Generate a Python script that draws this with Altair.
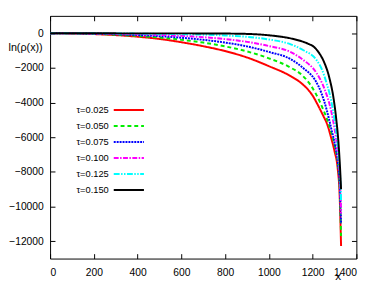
import altair as alt
import pandas as pd

taus = ["τ=0.025", "τ=0.050", "τ=0.075", "τ=0.100", "τ=0.125", "τ=0.150"]
colors = ["#ff0000", "#00ee00", "#0000ff", "#ff00ff", "#00ffff", "#000000"]
dashes = [[1, 0], [4, 3], [2, 1], [5, 1.5, 1.5, 1.5], [6, 1.5, 1.5, 1.5, 1.5, 1.5], [1, 0]]

x_red = [0, 200, 400, 500, 600, 700, 800, 900, 1000, 1100, 1150, 1200, 1233, 1250, 1265, 1285, 1300, 1315, 1323, 1330]
y_red = [0, -50, -200, -330, -520, -750, -1030, -1400, -1900, -2480, -2900, -3600, -4370, -4800, -5200, -6050, -6800, -7860, -9200, -12270]

x_green = [0, 200, 400, 500, 600, 700, 800, 900, 1000, 1100, 1150, 1190, 1215, 1250, 1270, 1288, 1303, 1316, 1324, 1330]
y_green = [0, -35, -160, -250, -380, -540, -760, -1050, -1450, -1990, -2400, -2980, -3500, -4450, -5100, -5850, -6600, -7600, -9000, -11700]

x_blue = [0, 200, 400, 500, 600, 700, 800, 900, 1000, 1100, 1158, 1211, 1240, 1265, 1285, 1303, 1316, 1324, 1330]
y_blue = [0, -25, -110, -170, -260, -380, -540, -760, -1080, -1500, -2020, -2700, -3450, -4450, -5500, -6500, -7500, -8800, -11000]

x_magenta = [0, 200, 400, 600, 700, 800, 900, 1000, 1100, 1158, 1218, 1255, 1285, 1305, 1317, 1325, 1330]
y_magenta = [0, -15, -60, -150, -230, -340, -500, -740, -1090, -1550, -2300, -3240, -4500, -5900, -7100, -8400, -10400]

x_cyan = [0, 200, 400, 600, 700, 800, 900, 1000, 1100, 1158, 1218, 1241, 1263, 1285, 1300, 1312, 1320, 1326, 1330]
y_cyan = [0, -5, -25, -60, -85, -130, -210, -360, -640, -985, -1550, -2050, -2850, -3900, -5000, -6100, -7300, -8300, -9650]

x_black = [0, 200, 400, 600, 800, 900, 1000, 1100, 1158, 1180, 1203, 1225, 1250, 1278, 1295, 1307, 1318, 1325, 1330]
y_black = [0, -5, -10, -10, -20, -40, -120, -300, -500, -610, -760, -1060, -1600, -2650, -3700, -4850, -6300, -7700, -9000]

x_ticks = [0, 200, 400, 600, 800, 1000, 1200, 1400]
y_ticks = [-12000, -10000, -8000, -6000, -4000, -2000, 0]

series = [
    (x_red, y_red), (x_green, y_green), (x_blue, y_blue),
    (x_magenta, y_magenta), (x_cyan, y_cyan), (x_black, y_black),
]
rows = []
for i, (xs, ys) in enumerate(series):
    for j, (xv, yv) in enumerate(zip(xs, ys)):
        rows.append({"tau": taus[i], "x": xv, "y": yv, "k": j, "s": i})
df = pd.DataFrame(rows)

# legend entries, placed in data space
leg_rows = []
for i, t in enumerate(taus):
    leg_rows.append({"tau": t, "s": i, "ly": -4430 - 923 * i,
                     "tx": 268, "lx1": 291, "lx2": 429})
leg = pd.DataFrame(leg_rows)

xscale = alt.Scale(domain=[0, 1400], nice=False, zero=False)
yscale = alt.Scale(domain=[-13000, 1000], nice=False, zero=False)
cscale = alt.Scale(domain=taus, range=colors)
dscale = alt.Scale(domain=taus, range=dashes)

FONT = "Liberation Sans"

x_axis = alt.Axis(orient="bottom", values=x_ticks, format="d", offset=-5, tickSize=5, domain=False,
                  grid=False, labelPadding=9, labelFontSize=10.5, labelFont=FONT,
                  labelColor="#000", tickColor="#000", title="x", titleFont=FONT,
                  titleFontSize=12, titleFontWeight="normal", titleX=294, titleY=26,
                  titleAlign="center", titleBaseline="alphabetic", titleColor="#000")
y_axis = alt.Axis(orient="left", values=y_ticks, format="d", offset=-5, tickSize=5, domain=False,
                  grid=False, labelPadding=7, labelFontSize=10.5, labelFont=FONT,
                  labelColor="#000", tickColor="#000", title="ln(ρ(x))", titleFont=FONT,
                  titleFontSize=11, titleFontWeight="normal", titleAngle=0, titleX=-48,
                  titleY=32, titleAlign="left", titleBaseline="middle", titleColor="#000")
x_top = alt.Axis(orient="top", values=x_ticks, offset=-5, tickSize=5, domain=False,
                 grid=False, labels=False, title=None, tickColor="#000")
y_right = alt.Axis(orient="right", values=y_ticks, offset=-5, tickSize=5, domain=False,
                   grid=False, labels=False, title=None, tickColor="#000")

lines = alt.Chart(df).mark_line(strokeWidth=2, interpolate="monotone").encode(
    x=alt.X("x:Q", scale=xscale, axis=x_axis),
    y=alt.Y("y:Q", scale=yscale, axis=y_axis),
    color=alt.Color("tau:N", scale=cscale, legend=None),
    strokeDash=alt.StrokeDash("tau:N", scale=dscale, legend=None),
    order=alt.Order("k:Q"),
)

frame_axes = alt.Chart(df).mark_line(opacity=0).encode(
    x=alt.X("x:Q", scale=xscale, axis=x_top),
    y=alt.Y("y:Q", scale=yscale, axis=y_right),
    detail="tau:N",
)

leg_lines = alt.Chart(leg).mark_rule(strokeWidth=2).encode(
    x=alt.X("lx1:Q", scale=xscale, axis=None),
    x2="lx2:Q",
    y=alt.Y("ly:Q", scale=yscale, axis=None),
    color=alt.Color("tau:N", scale=cscale, legend=None),
    strokeDash=alt.StrokeDash("tau:N", scale=dscale, legend=None),
)

leg_text = alt.Chart(leg).mark_text(align="right", baseline="middle", fontSize=9.5,
                                    font=FONT, color="#000").encode(
    x=alt.X("tx:Q", scale=xscale, axis=None),
    y=alt.Y("ly:Q", scale=yscale, axis=None),
    text="tau:N",
)

chart = alt.layer(lines, frame_axes, leg_lines, leg_text).resolve_axis(
    x="independent", y="independent"
).properties(
    width=313, height=248,
    autosize=alt.AutoSizeParams(type="none"),
    padding={"left": 43, "top": 5, "right": 18, "bottom": 26},
).configure_view(stroke="#000", strokeWidth=1)

chart.save("out.html", embed_options={"renderer": "svg", "actions": False})
